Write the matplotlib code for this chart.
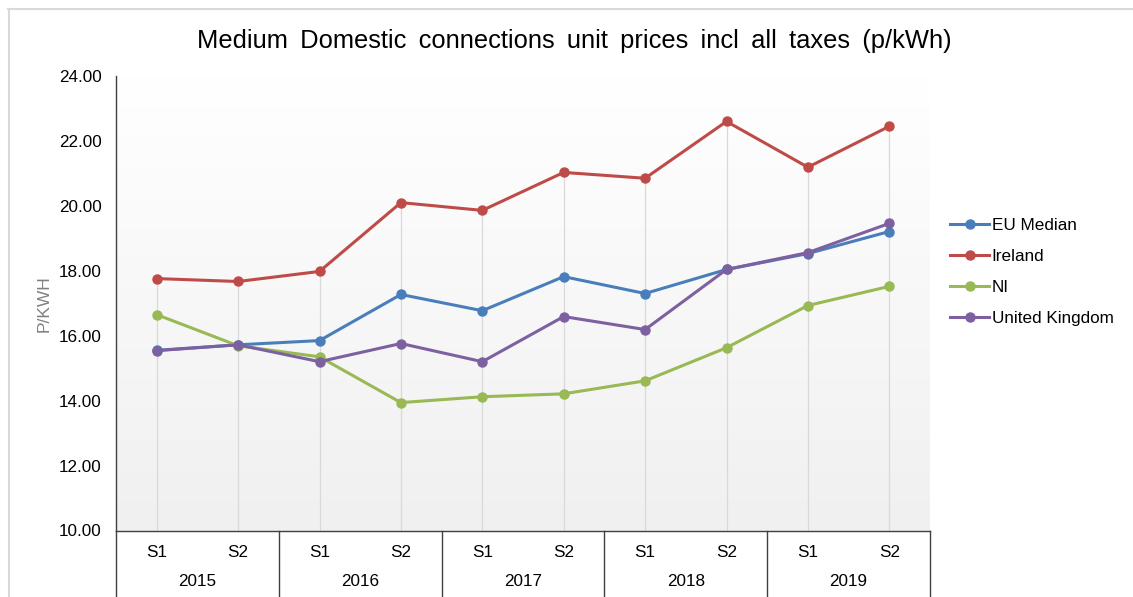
import matplotlib
matplotlib.use("Agg")
import matplotlib.pyplot as plt
import matplotlib.transforms as mtransforms
from matplotlib.colors import LinearSegmentedColormap
from matplotlib.lines import Line2D
import numpy as np

plt.rcParams["font.family"] = ["Liberation Sans", "DejaVu Sans"]

years = ["2015", "2016", "2017", "2018", "2019"]
halves = ["S1", "S2"]

eu_median = [15.55, 15.72, 15.85, 17.27, 16.77, 17.82, 17.30, 18.04, 18.53, 19.21]
ireland = [17.76, 17.67, 17.98, 20.10, 19.86, 21.03, 20.85, 22.60, 21.19, 22.45]
ni = [16.65, 15.69, 15.35, 13.94, 14.12, 14.21, 14.61, 15.63, 16.93, 17.52]
united_kingdom = [15.54, 15.72, 15.20, 15.76, 15.20, 16.59, 16.19, 18.04, 18.56, 19.46]

series = [
    ("EU Median", eu_median, "#4a7ebb"),
    ("Ireland", ireland, "#be4b48"),
    ("NI", ni, "#98b954"),
    ("United Kingdom", united_kingdom, "#7d60a0"),
]

W, H = 1133, 597
fig = plt.figure(figsize=(W / 100, H / 100), dpi=100)
ax = fig.add_axes([116 / W, 1 - 530.5 / H, 814 / W, 454.5 / H])

x = np.arange(len(years) * len(halves))

# soft vertical gradient behind the plot area
grad = LinearSegmentedColormap.from_list("bg", ["#f0f0f0", "#ffffff"])
ax.imshow(np.linspace(0, 1, 256).reshape(-1, 1), extent=[0, 1, 0, 1],
          transform=ax.transAxes, aspect="auto", cmap=grad,
          origin="lower", zorder=0)

# drop lines from the highest point of each category
tops = np.max([s[1] for s in series], axis=0)
ax.vlines(x, 10, tops, color="#d9d9d9", lw=0.9, zorder=1)

for name, vals, col in series:
    ax.plot(x, vals, "-o", color=col, lw=2.2, ms=6.5, label=name, zorder=3)

ax.set_xlim(-0.5, len(x) - 0.5)
ax.set_ylim(10, 24)
ax.set_yticks(np.arange(10, 25, 2))
ax.set_yticklabels([f"{v:.2f}" for v in np.arange(10, 25, 2)], fontsize=12.3)
ax.tick_params(axis="y", length=0, pad=10.5)

ax.set_xticks(x)
ax.set_xticklabels(halves * len(years), fontsize=12.3)
ax.tick_params(axis="x", length=0, pad=10.5)

for side in ["top", "right"]:
    ax.spines[side].set_visible(False)
for side in ["left", "bottom"]:
    ax.spines[side].set_color("#404040")
    ax.spines[side].set_linewidth(1.0)

ax.set_ylabel("P/KWH", fontsize=12.5, color="#808080")
ax.yaxis.set_label_coords(-0.079, 0.5)

# year row and dividers under the category axis
trans = mtransforms.blended_transform_factory(ax.transData, ax.transAxes)
for i, yr in enumerate(years):
    ax.text(2 * i + 0.5, -0.113, yr, transform=trans, ha="center",
            va="center", fontsize=12.3)
for b in np.arange(-0.5, len(x), 2):
    ax.add_line(Line2D([b, b], [0, -0.16], transform=trans, color="#404040",
                       lw=1.0, clip_on=False))

title = "Medium Domestic connections unit prices incl all taxes (p/kWh)"
fig.text(574 / W, 1 - 41 / H, title.replace(" ", " \u2009"),
         ha="center", va="center", fontsize=18.4)

ax.legend(loc="center left", bbox_to_anchor=(950 / W, 1 - 272 / H),
          bbox_transform=fig.transFigure, frameon=False, fontsize=12.3,
          handlelength=2.3, handletextpad=0.15, labelspacing=0.95,
          borderpad=0, borderaxespad=0)

# chart frame edges
fig.add_artist(Line2D([8 / W, 1], [1 - 8.5 / H, 1 - 8.5 / H],
                      color="#d9d9d9", lw=1.5))
fig.add_artist(Line2D([8.5 / W, 8.5 / W], [0, 1 - 8.5 / H],
                      color="#d9d9d9", lw=1.5))

fig.savefig("out.png", dpi=100)
